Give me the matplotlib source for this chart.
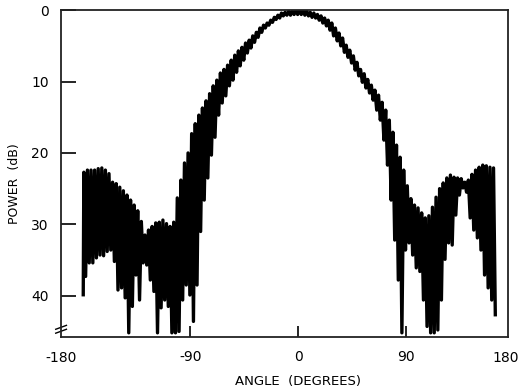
import numpy as np
import matplotlib
matplotlib.use("Agg")
import matplotlib.pyplot as plt

# Lobe peaks (angle in degrees, power in dB below max)
peak_angle = [-179, -176, -173, -170, -167, -164, -161, -158, -155, -152,
              -149, -146, -143, -140, -137, -134, -131, -128, -125, -122,
              -119, -116, -113, -110, -107, -104, -101, -98, -95, -92,
              -89, -86, -83, -80, -77, -74, -71, -68, -65, -62,
              -59, -56, -53, -50, -47, -44, -41, -38, -35, -32,
              -29, -26, -23, -20, -17, -14, -11, -8, -5, -2,
              1, 4, 7, 10, 13, 16, 19, 22, 25, 28,
              31, 34, 37, 40, 43, 46, 49, 52, 55, 58,
              61, 64, 67, 70, 73, 76, 79, 82, 85, 88,
              91, 94, 97, 100, 103, 106, 109, 112, 115, 118,
              121, 124, 127, 130, 133, 136, 139, 142, 145, 148,
              151, 154, 157, 160, 163]
peak_db = [22.7, 22.4, 22.4, 22.4, 22.2, 22.1, 22.4, 22.9, 24.1, 24.3,
           24.8, 25.3, 25.9, 26.6, 27.3, 28.1, 29.6, 31.5, 30.8, 30.3,
           29.8, 29.7, 29.4, 29.9, 30.3, 29.7, 26.3, 23.8, 21.4, 20.0,
           17.3, 15.9, 14.7, 13.7, 12.7, 11.7, 10.6, 9.8, 8.8, 8.3,
           7.7, 7.0, 6.3, 5.7, 5.2, 4.6, 4.2, 3.6, 3.1, 2.5,
           2.1, 1.8, 1.4, 1.0, 0.7, 0.4, 0.3, 0.15, 0.1, 0.0,
           0.0, 0.0, 0.1, 0.3, 0.4, 0.6, 0.8, 1.1, 1.4, 1.8,
           2.5, 3.2, 3.9, 4.9, 5.6, 6.4, 7.3, 8.3, 8.9, 9.7,
           10.5, 11.2, 11.9, 12.9, 14.0, 15.4, 17.1, 18.9, 20.6, 22.4,
           24.6, 26.4, 27.3, 27.7, 28.4, 29.1, 28.8, 27.6, 26.2, 25.0,
           24.2, 23.5, 23.1, 23.4, 23.5, 23.6, 24.1, 23.8, 23.0, 22.4,
           22.0, 21.7, 21.8, 22.0, 22.1]

# Nulls between the lobes
null_angle = [-179.5, -177.5, -174.5, -171.5, -168.5, -165.5, -162.5, -159.5, -156.5, -153.5,
              -150.5, -147.5, -144.5, -141.5, -138.5, -135.5, -132.5, -129.5, -126.5, -123.5,
              -120.5, -117.5, -114.5, -111.5, -108.5, -105.5, -102.5, -99.5, -96.5, -93.5,
              -90.5, -87.5, -84.5, -81.5, -78.5, -75.5, -72.5, -69.5, -66.5, -63.5,
              -60.5, -57.5, -54.5, -51.5, -48.5, -45.5, -42.5, -39.5, -36.5, -33.5,
              -30.5, -27.5, -24.5, -21.5, -18.5, -15.5, -12.5, -9.5, -6.5, -3.5,
              -0.5, 2.5, 5.5, 8.5, 11.5, 14.5, 17.5, 20.5, 23.5, 26.5,
              29.5, 32.5, 35.5, 38.5, 41.5, 44.5, 47.5, 50.5, 53.5, 56.5,
              59.5, 62.5, 65.5, 68.5, 71.5, 74.5, 77.5, 80.5, 83.5, 86.5,
              89.5, 92.5, 95.5, 98.5, 101.5, 104.5, 107.5, 110.5, 113.5, 116.5,
              119.5, 122.5, 125.5, 128.5, 131.5, 134.5, 137.5, 140.5, 143.5, 146.5,
              149.5, 152.5, 155.5, 158.5, 161.5, 164.5]
null_db = [40.1, 37.3, 35.4, 35.4, 34.7, 34.3, 34.4, 33.8, 33.6, 35.2,
           39.2, 38.9, 40.3, 45.2, 41.5, 37.1, 40.6, 35.4, 35.7, 37.8,
           39.4, 45.2, 41.7, 40.6, 41.5, 45.2, 45.2, 45.0, 40.6, 38.5,
           39.9, 43.6, 38.5, 31.0, 26.6, 23.5, 20.3, 17.8, 14.7, 13.0,
           12.0, 10.6, 9.8, 8.7, 7.8, 7.0, 6.0, 5.3, 4.5, 3.8,
           3.1, 2.5, 2.1, 1.7, 1.3, 1.1, 0.8, 0.7, 0.7, 0.6,
           0.6, 0.6, 0.7, 0.8, 1.0, 1.1, 1.4, 1.8, 2.2, 2.8,
           3.6, 4.3, 5.0, 5.9, 6.6, 7.4, 8.4, 9.2, 10.1, 10.9,
           11.6, 12.6, 14.0, 15.4, 18.2, 21.7, 26.6, 32.2, 37.8, 45.2,
           33.6, 32.6, 34.3, 36.1, 36.6, 40.6, 44.3, 45.2, 45.2, 44.8,
           40.6, 34.9, 32.6, 32.9, 28.7, 25.9, 24.9, 25.5, 29.1, 30.8,
           31.9, 33.6, 37.1, 38.9, 40.6, 42.9]

# merge peaks and nulls into one trace ordered by angle
angle = np.array(peak_angle + null_angle, dtype=float)
power = np.array(peak_db + null_db, dtype=float)
order = np.argsort(angle, kind="stable")
angle = angle[order]
power = power[order]

plt.rcParams['font.family'] = ['DejaVu Sans']

fig = plt.figure(figsize=(5.22, 3.92), dpi=100)
ax = fig.add_axes([0.117, 0.140, 0.856, 0.834])

ax.plot(angle, power, color='black', lw=2.4, solid_joinstyle='round',
        solid_capstyle='butt')

ax.set_xlim(-198, 175)
ax.set_ylim(45.8, 0)

ax.set_xticks([-90, 0, 90])
ax.set_xticklabels(['-90', '0', '90'])
ax.set_yticks([0, 10, 20, 30, 40])
ax.tick_params(axis='both', direction='in', length=8, width=1.2,
               labelsize=10, colors='black')
ax.tick_params(axis='y', length=11, pad=9)
ax.tick_params(axis='x', pad=9)

# end labels of the angle axis sit on the frame corners
ax.text(0.0, -0.065, '-180', transform=ax.transAxes, ha='center', va='center', fontsize=10)
ax.text(0.996, -0.065, '180', transform=ax.transAxes, ha='center', va='center', fontsize=10)

for s in ax.spines.values():
    s.set_linewidth(1.3)
    s.set_color('#222222')

ax.set_xlabel('ANGLE  (DEGREES)', fontsize=9.5)
ax.xaxis.set_label_coords(0.53, -0.115)
ax.set_ylabel('POWER  (dB)', fontsize=9)
ax.yaxis.set_label_coords(-0.09, 0.47)

# axis break mark at the lower left
for dy in (0.0, 0.012):
    ax.plot([-0.012, 0.012], [0.012 + dy, 0.024 + dy], transform=ax.transAxes,
            color='black', lw=1, clip_on=False)

fig.savefig('out.png', dpi=100)
